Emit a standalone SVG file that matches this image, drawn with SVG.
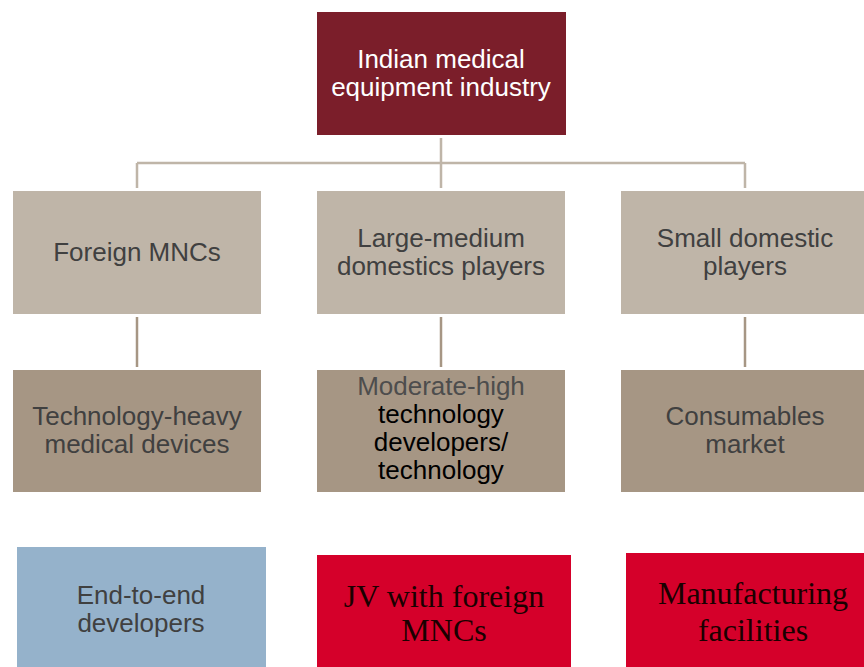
<svg xmlns="http://www.w3.org/2000/svg" width="864" height="667" viewBox="0 0 864 667">
  <style>
    .sans { font-family: "Liberation Sans", Arial, sans-serif; font-size: 26px; text-anchor: middle; }
    .serif { font-family: "Liberation Serif", "Times New Roman", serif; font-size: 32px; text-anchor: middle; fill: #1a0000; }
    .dark { fill: #404040; }
    .top { fill: #7B1E2A; }
    .mid { fill: #BFB5A8; }
    .low { fill: #A69684; }
    .blue { fill: #95B2CB; }
    .red { fill: #D5002A; }
    .link1 { stroke: #BFB5A8; stroke-width: 2.5; fill: none; }
    .link2 { stroke: #A69684; stroke-width: 2.5; fill: none; }
  </style>
  <rect width="864" height="667" fill="#ffffff"/>

  <g id="connectors">
    <path class="link1" d="M441 138 V188 M137 163 H745 M137 163 V188 M745 163 V188"/>
    <path class="link2" d="M137 317 V367 M441 317 V367 M745 317 V367"/>
  </g>

  <g id="industry">
    <rect class="top" x="317" y="12" width="249" height="123"/>
    <text class="sans" fill="#ffffff" x="441" y="68">Indian medical</text>
    <text class="sans" fill="#ffffff" x="441" y="96">equipment industry</text>
  </g>

  <g id="foreign-mncs">
    <rect class="mid" x="13" y="191" width="248" height="123"/>
    <text class="sans dark" x="137" y="261">Foreign MNCs</text>
  </g>
  <g id="large-medium">
    <rect class="mid" x="317" y="191" width="248" height="123"/>
    <text class="sans dark" x="441" y="247">Large-medium</text>
    <text class="sans dark" x="441" y="275">domestics players</text>
  </g>
  <g id="small-domestic">
    <rect class="mid" x="621" y="191" width="243" height="123"/>
    <text class="sans dark" x="745" y="247">Small domestic</text>
    <text class="sans dark" x="745" y="275">players</text>
  </g>

  <g id="technology-heavy">
    <rect class="low" x="13" y="370" width="248" height="122"/>
    <text class="sans dark" x="137" y="425">Technology-heavy</text>
    <text class="sans dark" x="137" y="453">medical devices</text>
  </g>
  <g id="moderate-high">
    <rect class="low" x="317" y="370" width="248" height="122"/>
    <text class="sans" fill="#4d4d4d" x="441" y="395">Moderate-high</text>
    <text class="sans" fill="#000000" x="441" y="423">technology</text>
    <text class="sans" fill="#000000" x="441" y="451">developers/</text>
    <text class="sans" fill="#000000" x="441" y="479">technology</text>
  </g>
  <g id="consumables">
    <rect class="low" x="621" y="370" width="243" height="122"/>
    <text class="sans dark" x="745" y="425">Consumables</text>
    <text class="sans dark" x="745" y="453">market</text>
  </g>

  <g id="end-to-end">
    <rect class="blue" x="17" y="547" width="249" height="120"/>
    <text class="sans dark" x="141" y="604">End-to-end</text>
    <text class="sans dark" x="141" y="632">developers</text>
  </g>
  <g id="jv">
    <rect class="red" x="317" y="555" width="254" height="112"/>
    <text class="serif" x="444" y="607">JV with foreign</text>
    <text class="serif" x="444" y="641">MNCs</text>
  </g>
  <g id="manufacturing">
    <rect class="red" x="626" y="553" width="238" height="114"/>
    <text class="serif" x="753" y="604">Manufacturing</text>
    <text class="serif" x="753" y="641">facilities</text>
  </g>
</svg>
